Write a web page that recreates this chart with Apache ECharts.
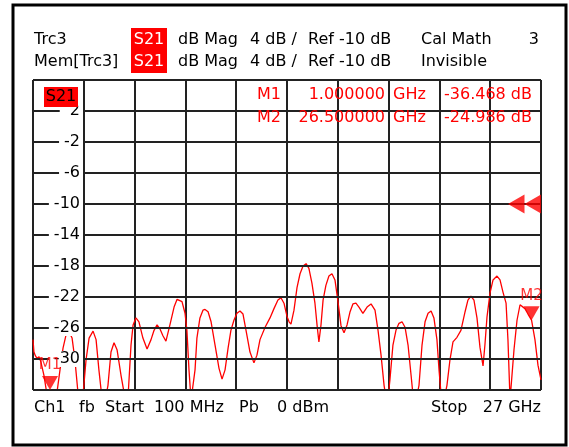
<!DOCTYPE html>
<html>
<head>
<meta charset="utf-8">
<script src="https://cdn.jsdelivr.net/npm/echarts@6/dist/echarts.min.js"></script>
<style>
  html, body { margin: 0; padding: 0; background: #fff; }
  #chart { width: 569px; height: 447px; }
</style>
</head>
<body>
<div id="chart"></div>
<script>
// trace Trc3, S21 dB Mag, 100 MHz .. 27 GHz
const freqGHz = [
  0.10, 0.15, 0.23, 0.31, 0.42, 0.52, 0.68, 0.84, 1.00, 1.21, 1.37, 1.53, 1.69, 1.85, 2.01, 2.17,
  2.32, 2.48, 2.59, 2.75, 2.91, 3.07, 3.28, 3.44, 3.59, 3.75, 3.91, 4.07, 4.23, 4.39, 4.55, 4.76,
  4.97, 5.13, 5.29, 5.40, 5.55, 5.71, 5.92, 6.14, 6.35, 6.51, 6.67, 6.82, 6.98, 7.14, 7.35, 7.57,
  7.73, 7.83, 7.99, 8.15, 8.25, 8.36, 8.47, 8.57, 8.68, 8.78, 8.94, 9.10, 9.21, 9.37, 9.53, 9.74,
  9.95, 10.11, 10.27, 10.43, 10.58, 10.74, 10.90, 11.06, 11.22, 11.38, 11.59, 11.80, 11.96, 12.12,
  12.39, 12.65, 12.86, 13.07, 13.23, 13.39, 13.55, 13.66, 13.76, 13.92, 14.08, 14.24, 14.40, 14.56,
  14.71, 14.87, 15.03, 15.14, 15.24, 15.35, 15.46, 15.61, 15.77, 15.93, 16.09, 16.25, 16.41, 16.57,
  16.73, 16.89, 17.04, 17.20, 17.36, 17.57, 17.79, 18.00, 18.21, 18.37, 18.53, 18.69, 18.79, 18.90,
  19.00, 19.16, 19.32, 19.48, 19.64, 19.80, 19.96, 20.12, 20.22, 20.38, 20.54, 20.70, 20.86, 21.02,
  21.18, 21.33, 21.49, 21.60, 21.71, 21.86, 22.02, 22.18, 22.34, 22.55, 22.76, 22.98, 23.13, 23.29,
  23.45, 23.61, 23.77, 23.93, 24.03, 24.14, 24.30, 24.46, 24.67, 24.83, 24.99, 25.15, 25.25, 25.36,
  25.46, 25.57, 25.73, 25.89, 25.99, 26.15, 26.31, 26.50, 26.68, 26.84, 27.00
];
const magDb = [
  -27.5, -29.1, -29.6, -29.9, -29.7, -30.4, -32.1, -34.6, -36.47, -35.9, -34.3, -31.4, -28.6, -26.9, -26.5, -27.3,
  -30.1, -34.3, -35.9, -34.6, -30.1, -27.3, -26.4, -27.5, -31.4, -35.0, -35.5, -33.4, -29.1, -27.9, -28.8, -32.1,
  -35.0, -35.0, -28.2, -25.6, -24.7, -25.2, -27.3, -28.7, -27.5, -26.3, -25.6, -26.1, -27.0, -27.7, -25.6, -23.3,
  -22.3, -22.1, -22.6, -24.1, -26.3, -31.4, -35.3, -35.3, -31.4, -27.3, -24.7, -23.7, -23.6, -23.9, -25.2, -28.2,
  -31.2, -32.6, -31.4, -28.6, -26.3, -25.0, -24.1, -23.8, -24.2, -26.3, -29.1, -30.5, -29.5, -27.5,
  -25.9, -24.7, -23.5, -22.4, -22.1, -22.8, -24.5, -25.2, -25.5, -23.7, -20.8, -19.0, -18.0, -17.7,
  -18.3, -20.2, -22.8, -25.6, -27.8, -25.6, -22.4, -20.5, -19.3, -19.0, -19.8, -22.6, -25.7, -26.6,
  -25.6, -23.9, -22.9, -22.8, -23.3, -24.1, -23.3, -22.9, -23.7, -26.3, -29.5, -33.4, -35.0, -35.0,
  -32.7, -28.2, -26.3, -25.4, -25.2, -25.9, -28.2, -32.1, -34.6, -35.3, -33.4, -28.2, -25.2, -24.1,
  -23.8, -24.7, -27.5, -31.4, -34.6, -35.3, -33.4, -30.1, -27.8, -27.2, -26.3, -23.9, -22.4, -21.9,
  -22.4, -24.7, -28.5, -30.9, -28.2, -24.6, -21.5, -19.8, -19.3, -19.8, -21.4, -22.8, -27.5, -35.3,
  -35.3, -28.8, -25.0, -23.0, -22.8, -23.5, -24.2, -24.986, -27.5, -30.8, -32.7
];

const markerNames = ['M1', 'M2'];
const markerFreqGHz = [1.0, 26.5];
const markerDb = [-36.468, -24.986];

const startGHz = 0.1, stopGHz = 27;
const refDb = -10, scaleDbPerDiv = 4;
const yMin = -34, yMax = 6;

const FONT = '16px "DejaVu Sans"';
const RED = '#ff0000';

const chart = echarts.init(document.getElementById('chart'));

function txt(text, x, y, opts) {
  opts = opts || {};
  return {
    type: 'text', z: 100,
    style: {
      text: text, x: x, y: y, font: FONT,
      fill: opts.fill || '#000',
      textAlign: opts.align || 'left',
      textVerticalAlign: 'middle'
    }
  };
}

const graphics = [
  { type: 'rect', z: 90, shape: { x: 13, y: 5, width: 553, height: 440 },
    style: { fill: 'none', stroke: '#000', lineWidth: 3 } },
  // header
  { type: 'rect', z: 95, shape: { x: 131, y: 28, width: 36, height: 45 }, style: { fill: RED } },
  txt('Trc3', 34, 40), txt('S21', 149, 40, { fill: '#fff', align: 'center' }),
  txt('dB Mag', 178, 40), txt('4 dB /', 250, 40), txt('Ref -10 dB', 308, 40),
  txt('Cal Math', 421, 40), txt('3', 539, 40, { align: 'right' }),
  txt('Mem[Trc3]', 34, 62), txt('S21', 149, 62, { fill: '#fff', align: 'center' }),
  txt('dB Mag', 178, 62), txt('4 dB /', 250, 62), txt('Ref -10 dB', 308, 62),
  txt('Invisible', 421, 62),
  // trace label in plot
  { type: 'rect', z: 95, shape: { x: 44, y: 87, width: 34, height: 20 }, style: { fill: RED } },
  txt('S21', 61, 97, { align: 'center' }),
  // footer
  txt('Ch1', 34, 408), txt('fb', 79, 408), txt('Start', 105, 408), txt('100 MHz', 154, 408),
  txt('Pb', 239, 408), txt('0 dBm', 277, 408), txt('Stop', 431, 408), txt('27 GHz', 541, 408, { align: 'right' })
];

// marker table
markerNames.forEach(function (name, i) {
  const y = 95 + i * 22.5;
  graphics.push(
    txt(name, 281, y, { fill: RED, align: 'right' }),
    txt(markerFreqGHz[i].toFixed(6), 385, y, { fill: RED, align: 'right' }),
    txt('GHz', 393, y, { fill: RED }),
    txt(markerDb[i].toFixed(3) + ' dB', 532, y, { fill: RED, align: 'right' })
  );
});

const option = {
  animation: false,
  backgroundColor: '#fff',
  grid: { left: 33, top: 80, width: 508, height: 310, show: false },
  xAxis: [
    { type: 'value', min: startGHz, max: stopGHz, show: false },
    { type: 'value', min: 0, max: 10, interval: 1, position: 'bottom',
      axisLine: { show: false }, axisTick: { show: false }, axisLabel: { show: false },
      splitLine: { show: true, lineStyle: { color: '#222', width: 2 } } }
  ],
  yAxis: [
    { type: 'value', min: yMin, max: yMax, interval: scaleDbPerDiv, z: 5,
      axisLine: { show: false }, axisTick: { show: false },
      splitLine: { show: true, lineStyle: { color: '#222', width: 2 } },
      axisLabel: {
        inside: true, margin: 50, align: 'right',
        showMinLabel: false, showMaxLabel: false,
        color: '#000', fontFamily: 'DejaVu Sans', fontSize: 16,
        backgroundColor: '#fff', padding: [0, 3, 0, 5],
        formatter: function (v) { return v > 0 ? ' ' + v : String(v); }
      } }
  ],
  series: [
    { type: 'line', xAxisIndex: 0, yAxisIndex: 0, z: 3,
      data: freqGHz.map(function (f, i) { return [f, magDb[i]]; }),
      showSymbol: false, clip: true,
      lineStyle: { color: RED, width: 1.3 } },
    { type: 'scatter', xAxisIndex: 0, yAxisIndex: 0, z: 6, clip: false,
      data: markerNames.map(function (n, i) {
        return { name: n, value: [markerFreqGHz[i], Math.max(markerDb[i], yMin)] };
      }),
      symbol: 'triangle', symbolRotate: 180, symbolSize: [16, 14], symbolOffset: [0, -7],
      itemStyle: { color: RED },
      label: { show: true, position: 'top', distance: 3, formatter: '{b}',
        color: RED, fontFamily: 'DejaVu Sans', fontSize: 15 } },
    { type: 'scatter', xAxisIndex: 0, yAxisIndex: 0, z: 6, clip: false,
      data: [[stopGHz, refDb]],
      symbol: 'path://M0,5 L8,0 L8,10 Z M8,5 L16,0 L16,10 Z',
      symbolSize: [33, 19], symbolOffset: [-16.5, 0],
      itemStyle: { color: RED } }
  ],
  graphic: graphics
};
chart.setOption(option);
</script>
</body>
</html>
